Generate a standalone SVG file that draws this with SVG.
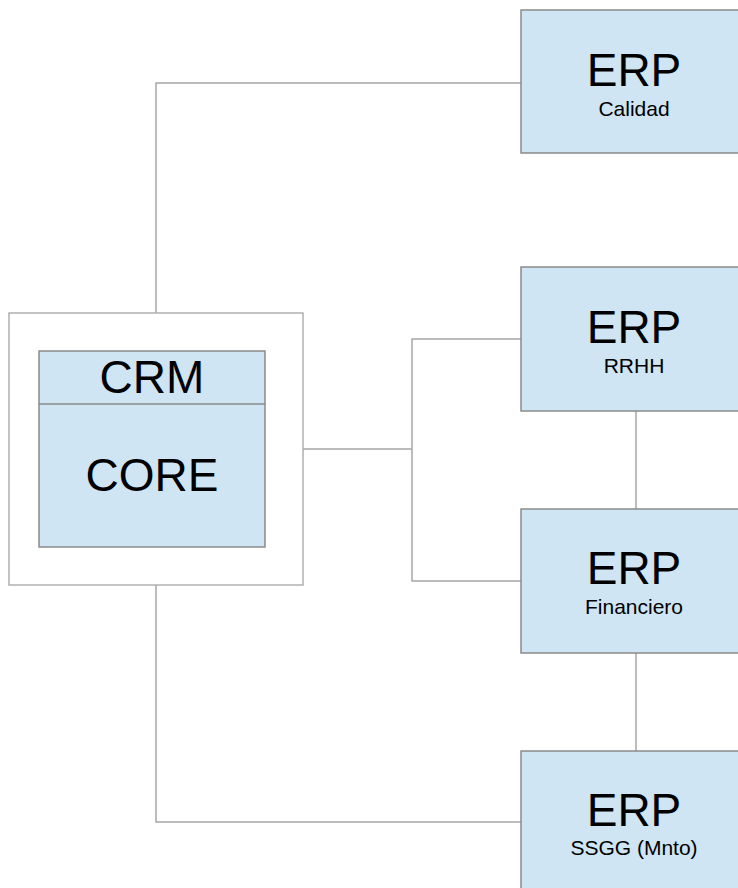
<svg xmlns="http://www.w3.org/2000/svg" width="738" height="888" viewBox="0 0 738 888">
<style>
.box{fill:#cfe5f3;stroke:#8a8a8a;stroke-width:1.5}
.outer{fill:#ffffff;stroke:#b0b0b0;stroke-width:1.5}
.conn{fill:none;stroke:#a6a6a6;stroke-width:1.5}
.big{font-family:"Liberation Sans",Arial,sans-serif;font-size:46px;fill:#000;text-anchor:middle}
.small{font-family:"Liberation Sans",Arial,sans-serif;font-size:21px;fill:#000;text-anchor:middle}
</style>
<rect width="738" height="888" fill="#ffffff"/>
<g id="connectors">
<polyline class="conn" points="156,313 156,83 521,83"/>
<polyline class="conn" points="303,449 412,449"/>
<polyline class="conn" points="521,339 412,339 412,581 521,581"/>
<polyline class="conn" points="156,585 156,822 521,822"/>
<line class="conn" x1="636" y1="411" x2="636" y2="509"/>
<line class="conn" x1="636" y1="653" x2="636" y2="751"/>
</g>
<g id="crm">
<rect class="outer" x="9" y="313" width="294" height="272"/>
<rect class="box" x="39" y="351" width="226" height="196"/>
<line x1="39" y1="404" x2="265" y2="404" stroke="#8a8a8a" stroke-width="1.5"/>
<text class="big" x="152" y="393">CRM</text>
<text class="big" x="152" y="491">CORE</text>
</g>
<g id="erp-calidad">
<rect class="box" x="521" y="10" width="228" height="143"/>
<text class="big" x="634" y="86">ERP</text>
<text class="small" x="634" y="116">Calidad</text>
</g>
<g id="erp-rrhh">
<rect class="box" x="521" y="267" width="228" height="144"/>
<text class="big" x="634" y="343">ERP</text>
<text class="small" x="634" y="373">RRHH</text>
</g>
<g id="erp-financiero">
<rect class="box" x="521" y="509" width="228" height="144"/>
<text class="big" x="634" y="584">ERP</text>
<text class="small" x="634" y="614">Financiero</text>
</g>
<g id="erp-ssgg">
<rect class="box" x="521" y="751" width="228" height="144"/>
<text class="big" x="634" y="826">ERP</text>
<text class="small" x="634" y="855">SSGG (Mnto)</text>
</g>
</svg>
